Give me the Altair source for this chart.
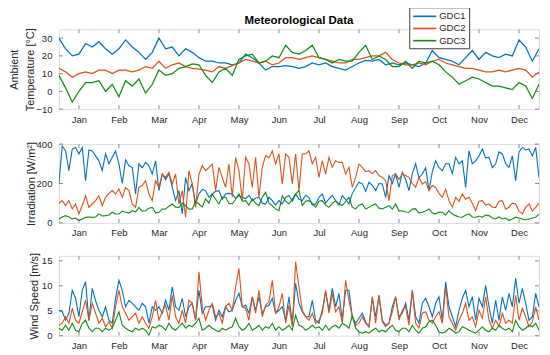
import json
import altair as alt
import pandas as pd

MONTHS = ["Jan", "Feb", "Mar", "Apr", "May", "Jun", "Jul", "Aug", "Sep", "Oct", "Nov", "Dec"]
MONTH_TICKS = [0.5, 1.5, 2.5, 3.5, 4.5, 5.5, 6.5, 7.5, 8.5, 9.5, 10.5, 11.5]
SERIES = ["GDC1", "GDC2", "GDC3"]
COLORS = ["#0072BD", "#D95319", "#138A13"]
TITLE = "Meteorological Data"

TEMP_TICKS = [-10, 0, 10, 20, 30]
IRR_TICKS = [0, 200, 400]
WIND_TICKS = [0, 5, 10, 15]

# readings every 1/6 month (temperature) and every 1/12 month (irradiation, wind)
TEMP_STEP = 1 / 6
FINE_STEP = 1 / 12

TEMP_GDC1 = [30, 24, 20, 21, 27, 25, 28, 24, 21, 24, 29, 25, 22, 18, 22, 30, 24, 25, 20, 24, 22, 19, 17, 17, 16, 16, 15, 16, 21, 19, 16, 12, 14, 14,
             14.5, 14, 13, 14, 16, 15, 16, 14, 13, 12, 14, 16, 17.5, 17, 18, 15, 16, 15, 16, 15, 14, 16, 23, 19, 18, 17, 15, 19, 23, 18, 22, 20, 19, 21, 20, 29, 25, 17, 24]
TEMP_GDC2 = [13, 11, 8, 10, 11, 10, 12, 12, 10, 12, 12, 11, 12, 14, 13, 17, 13, 15, 16, 14, 13, 12.5, 12, 11, 14, 13, 14.5, 16, 18, 17, 16, 17, 15, 16,
             19, 19, 18, 19, 20, 19, 18, 17, 16, 16, 18, 18, 19, 20, 20, 22, 18, 16, 15, 15, 16, 15, 17, 18, 16, 15, 14, 13, 13, 12, 11, 11, 12, 11, 12, 13, 12, 8, 11]
TEMP_GDC3 = [9, 2, -6, 0, 5, 5, 6, 0, 4, -3, 6, 3, 7, -1, 4, 12, 9, 10, 13, 14, 15.5, 15, 9, 5, 11, 13, 9, 18, 20, 21, 16, 17, 20, 19,
             26, 22, 21, 23, 26, 19, 18, 16, 18, 17, 17, 22, 26, 18, 20, 18, 14, 14, 17, 13, 17, 16, 17, 15, 11, 8, 4, 6, 8, 7, 5, 3, 3, 2, 1, 5, 3, -4, 4]

IRR_GDC1 = [200, 390, 365, 265, 375, 383, 350, 383, 214, 370, 365, 340, 315, 265, 350, 300, 333, 365, 300, 200, 320, 290, 282, 147, 300, 280, 307, 290, 248, 315,
            164, 248, 220, 250, 180, 113, 164, 46, 230, 164, 198, 96, 147, 170, 164, 130, 147, 160, 164, 120, 147, 150, 147, 125, 138, 130, 122, 140, 113, 125,
            130, 100, 96, 130, 113, 90, 113,
            96, 130, 139, 110, 147, 120, 113, 140, 130, 90, 96, 130, 147, 100, 122, 140, 113, 90, 139, 120, 96, 150, 180, 206, 198, 160, 206, 190, 164, 200,
            198, 130, 240, 200, 248, 180, 257, 220, 164, 250, 300, 230, 248, 280, 164, 260, 315, 280, 265, 300, 300, 250, 333, 300, 315, 180, 366, 300, 315, 340,
            375, 330, 333, 280, 300, 360, 350, 300, 282, 340, 214, 360, 383, 370, 375, 340, 383, 230]
IRR_GDC2 = [100, 113, 88, 113, 71, 96, 46, 88, 138, 79, 96, 113, 138, 88, 130, 150, 164, 147, 172, 130, 180, 164, 96, 79, 180, 190, 214, 147, 113, 214,
            180, 248, 231, 257, 197, 248, 96, 164, 29, 265, 197, 79, 248, 290, 265, 280, 299, 164, 282, 230, 180, 299, 130, 333, 265, 113, 333, 299, 180, 333,
            130, 282, 341, 330, 366, 300, 350,
            198, 350, 333, 198, 350, 164, 350, 350, 366, 299, 333, 231, 316, 248, 333, 282, 316, 307, 307, 248, 282, 180, 231, 299, 282, 260, 265, 250, 265, 240,
            231, 214, 113, 240, 248, 220, 248, 240, 231, 200, 180, 230, 197, 210, 164, 190, 180, 150, 130, 170, 113, 80, 130, 110, 147, 120, 130, 100, 62, 110,
            113, 90, 96, 80, 79, 110, 113, 70, 79, 100, 96, 60, 46, 80, 96, 60, 79, 100]
IRR_GDC3 = [20, 30, 37, 30, 20, 25, 12, 20, 28, 30, 28, 30, 46, 35, 37, 40, 54, 45, 46, 60, 54, 50, 62, 55, 79, 60, 62, 75, 79, 50,
            54, 70, 71, 85, 96, 80, 79, 100, 88, 70, 71, 110, 96, 80, 122, 100, 147, 120, 96, 130, 130, 100, 96, 120, 147, 110, 113, 90, 122, 100,
            88, 130, 155, 100, 88, 70, 62,
            138, 110, 96, 120, 147, 164, 88, 110, 113, 100, 79, 110, 113, 90, 79, 100, 113, 96, 88, 110, 130, 80, 71, 90, 96, 70, 79, 90, 96, 75,
            71, 80, 88, 70, 96, 60, 62, 55, 54, 70, 71, 50, 54, 60, 71, 50, 46, 55, 54, 40, 62, 45, 37, 30, 29, 40, 46, 30, 29, 35,
            29, 40, 37, 25, 20, 30, 20, 25, 12, 20, 29, 25, 20, 15, 20, 25, 29, 45]

WIND_GDC1 = [5.1, 4.8, 3.1, 4.5, 9.1, 7.5, 3.8, 9.1, 10.8, 3.0, 9.5, 7.0, 5.1, 3.8, 5.8, 3.1, 2.5, 7.5, 11.1, 9.1, 5.8, 7.1, 6.5, 5.8, 5.1, 6.5, 5.8, 2.5, 5.8, 5.1,
             5.8, 4.5, 7.1, 5.1, 9.8, 5.8, 5.1, 7.5, 3.8, 5.8, 6.5, 3.1, 9.1, 4.5, 5.8, 5.8, 6.1, 3.1, 5.1, 3.8, 5.8, 4.8, 5.1, 7.1, 8.5, 5.8, 6.1, 4.5, 7.8, 5.1,
             7.8, 4.5, 5.8, 6.1, 7.5, 4.5, 5.1,
             5.8, 3.1, 7.8, 2.5, 10.5, 6.5, 4.8, 3.8, 3.8, 7.1, 3.1, 2.5, 5.1, 8.8, 5.1, 9.5, 5.8, 8.5, 3.1, 9.1, 9.1, 3.8, 2.5, 3.5, 4.5, 2.8, 1.8, 7.5, 3.8, 8.1,
             3.1, 2.1, 2.5, 5.8, 7.8, 3.8, 4.5, 6.5, 3.1, 9.1, 3.8, 2.5, 6.5, 7.5, 5.8, 3.8, 6.5, 7.8, 3.1, 10.8, 5.8, 3.8, 1.8, 5.1, 7.5, 9.1, 5.8, 7.8, 3.1, 7.5,
             5.8, 10.1, 5.8, 2.5, 7.1, 3.1, 7.8, 5.1, 8.5, 5.8, 11.5, 6.5, 9.5, 6.5, 3.1, 3.8, 8.5, 5.8]
WIND_GDC2 = [2.1, 2.5, 3.8, 2.5, 5.5, 3.1, 2.5, 4.8, 7.1, 3.1, 6.5, 4.5, 2.5, 3.5, 1.8, 2.8, 1.5, 5.8, 9.1, 5.8, 4.5, 3.1, 3.8, 4.5, 2.5, 3.8, 2.5, 1.5, 3.8, 7.1,
             3.1, 4.8, 6.1, 3.1, 8.1, 3.8, 2.5, 5.1, 2.5, 7.1, 6.5, 3.1, 12.8, 5.8, 3.1, 5.1, 6.5, 3.8, 4.5, 2.5, 5.8, 6.5, 5.1, 9.8, 13.5, 5.8, 5.5, 3.1, 7.8, 4.5,
             9.1, 3.8, 6.1, 6.8, 11.1, 4.5, 5.8,
             8.5, 2.5, 6.1, 1.8, 14.8, 9.8, 5.1, 3.8, 3.1, 4.5, 2.5, 3.1, 4.5, 9.1, 4.5, 8.5, 4.8, 5.8, 2.5, 11.1, 7.1, 3.8, 2.1, 2.5, 3.8, 2.5, 1.8, 7.8, 2.5, 8.1,
             2.8, 1.8, 2.5, 4.8, 7.8, 3.1, 5.1, 5.8, 2.1, 9.1, 2.5, 1.5, 4.5, 4.8, 3.1, 2.5, 3.8, 4.8, 2.5, 9.8, 3.8, 2.5, 1.1, 3.1, 4.5, 6.5, 3.1, 3.8, 1.8, 5.1,
             3.5, 7.8, 3.1, 1.5, 3.1, 1.8, 4.5, 2.5, 3.1, 2.5, 8.1, 3.1, 5.5, 3.8, 1.8, 2.8, 5.8, 3.1]
WIND_GDC3 = [1.5, 1.1, 2.1, 1.1, 2.5, 1.1, 0.8, 2.5, 3.1, 1.5, 0.8, 1.5, 1.5, 0.8, 1.5, 1.1, 1.5, 3.1, 4.8, 2.1, 1.5, 1.1, 0.8, 1.5, 1.1, 1.5, 1.1, 0.1, 1.8, 1.5,
             2.1, 1.8, 1.1, 2.5, 1.5, 1.1, 1.8, 2.5, 1.5, 2.1, 1.8, 2.5, 3.5, 1.1, 1.5, 2.1, 1.5, 1.1, 0.8, 1.5, 1.1, 1.5, 1.8, 3.5, 1.8, 1.1, 1.5, 2.5, 1.1, 1.5,
             2.1, 1.1, 1.8, 1.5, 2.5, 1.1, 1.8,
             1.1, 1.5, 2.1, 1.1, 4.1, 2.1, 1.8, 1.1, 1.5, 2.1, 1.5, 1.8, 1.1, 2.1, 1.1, 1.8, 2.1, 1.5, 2.5, 2.1, 1.5, 4.1, 1.5, 0.8, 0.5, 0.8, 0.5, 1.1, 1.5, 0.8,
             1.1, 0.8, 1.5, 2.1, 1.1, 0.8, 1.5, 1.5, 0.8, 2.1, 1.1, 0.5, 1.5, 1.8, 2.8, 3.1, 2.1, 0.8, 0.5, 0.8, 1.5, 1.1, 0.5, 0.8, 1.8, 1.5, 1.1, 0.8, 0.5, 1.1,
             1.8, 1.1, 0.8, 1.5, 1.1, 2.1, 1.5, 1.1, 1.5, 0.8, 3.1, 1.8, 1.1, 1.5, 2.1, 1.8, 2.5, 1.1]

FONT = "Liberation Sans"
TXT = "#262626"
AXC = "#6b6b6b"
W = 481


def long_df(step, lists):
    rows = []
    for name, vals in zip(SERIES, lists):
        for i, v in enumerate(vals):
            rows.append({"m": i * step, "v": v, "s": name})
    return pd.DataFrame(rows)


label_expr = json.dumps(MONTHS) + "[floor(datum.value)]"


def panel(df, domain, yticks, ytitle, title_pad, stroke, H, legend=None, with_title=False):
    xs = alt.Scale(domain=[0, 12], nice=False, zero=False)
    ys = alt.Scale(domain=domain, nice=False, zero=False)
    xaxis = alt.Axis(
        values=MONTH_TICKS, labelExpr=label_expr, ticks=False, domain=False, grid=False,
        title=None, labelPadding=5, labelFontSize=9.5, labelFont=FONT, labelColor=TXT)
    yaxis = alt.Axis(
        values=yticks, ticks=False, domain=False, grid=False, title=ytitle,
        labelPadding=7, labelFontSize=9.5, labelFont=FONT, labelColor=TXT,
        titleFont=FONT, titleFontSize=11, titleFontWeight="normal", titleColor=TXT,
        titlePadding=title_pad, titleLineHeight=16)
    lines = alt.Chart(df).mark_line(strokeWidth=stroke, clip=True).encode(
        x=alt.X("m:Q", scale=xs, axis=xaxis),
        y=alt.Y("v:Q", scale=ys, axis=yaxis),
        color=alt.Color("s:N", scale=alt.Scale(domain=SERIES, range=COLORS), legend=legend),
        order=alt.Order("m:Q"),
    )
    xt = pd.DataFrame({"m": MONTH_TICKS})
    yt = pd.DataFrame({"v": yticks})
    bottom = alt.Chart(xt).mark_rule(color=AXC, strokeWidth=0.8).encode(
        x=alt.X("m:Q", scale=xs, axis=xaxis), y=alt.value(H), y2=alt.value(H - 4))
    top = alt.Chart(xt).mark_rule(color=AXC, strokeWidth=0.8).encode(
        x=alt.X("m:Q", scale=xs, axis=xaxis), y=alt.value(0), y2=alt.value(4))
    left = alt.Chart(yt).mark_rule(color=AXC, strokeWidth=0.8).encode(
        y=alt.Y("v:Q", scale=ys, axis=yaxis), x=alt.value(0), x2=alt.value(4))
    right = alt.Chart(yt).mark_rule(color=AXC, strokeWidth=0.8).encode(
        y=alt.Y("v:Q", scale=ys, axis=yaxis), x=alt.value(W), x2=alt.value(W - 4))
    layers = [lines, bottom, top, left, right]
    if with_title:
        tt = alt.Chart(pd.DataFrame({"t": [TITLE]})).mark_text(
            font=FONT, fontSize=11.5, fontWeight="bold", color="#000000",
            align="center", baseline="alphabetic").encode(
            text="t:N", x=alt.value(W / 2), y=alt.value(-5))
        layers.append(tt)
    return alt.layer(*layers).properties(width=W, height=H)


legend = alt.Legend(
    title=None, orient="none", legendX=351, legendY=-22, direction="vertical",
    symbolType="M-1,0H3.6", symbolSize=100, symbolStrokeWidth=1.6,
    labelFont=FONT, labelFontSize=9.5, labelColor=TXT, labelOffset=15,
    labelExpr="datum.label + '    '",
    rowPadding=1.2, padding=3, strokeColor="#404040", fillColor="white",
)

p1 = panel(long_df(TEMP_STEP, [TEMP_GDC1, TEMP_GDC2, TEMP_GDC3]), [-10, 35], TEMP_TICKS,
           ["Ambient", "Temperature [°C]"], 0, 1.25, 80, legend=legend, with_title=True)
p2 = panel(long_df(FINE_STEP, [IRR_GDC1, IRR_GDC2, IRR_GDC3]), [0, 400], IRR_TICKS,
           "Irradiation [W/m²]", 0, 1.1, 79)
p3 = panel(long_df(FINE_STEP, [WIND_GDC1, WIND_GDC2, WIND_GDC3]), [0, 16], WIND_TICKS,
           "Wind Speed [m/s]", 2, 1.1, 80)

chart = alt.vconcat(p1, p2, p3, spacing=14).resolve_scale(
    color="independent").resolve_legend(color="independent").properties(
    padding={"left": 0, "top": -2, "right": 2, "bottom": 2}
).configure_view(stroke=AXC, strokeWidth=1).configure(background="white")

chart.save("out.html", embed_options={"renderer": "svg", "actions": False})
